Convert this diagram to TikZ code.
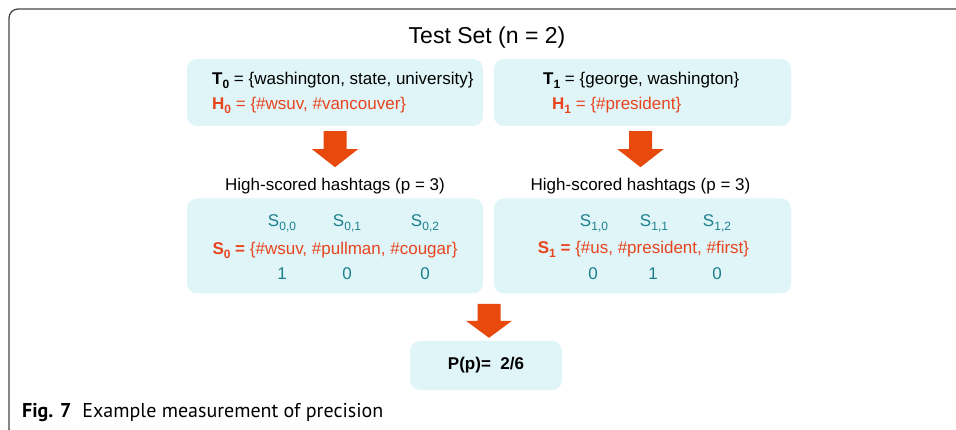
\documentclass[tikz,border=0pt]{standalone}
\usepackage{fontspec}
\setmainfont{Liberation Sans}
\newfontfamily\capfont{PT Sans}
\usetikzlibrary{calc}
\definecolor{boxfill}{RGB}{223,245,248}
\definecolor{hred}{RGB}{232,68,30}
\definecolor{arrowred}{RGB}{232,74,14}
\definecolor{scoreteal}{RGB}{28,128,140}
\definecolor{framegray}{RGB}{70,70,70}
% lowered small index, used for T_0, H_0, S_{0,1}, ...
\newcommand\lowsub[1]{\raisebox{-4pt}{\fontsize{12}{12}\selectfont #1}}
% solid block arrow pointing down; #1 top centre, #2 shaft length, #3 head length
\newcommand\blockdown[3]{%
  \fill[arrowred] (#1) ++(-11.5,0) -- ++(23,0) -- ++(0,#2) -- ++(11.5,0)
    -- ++(-23,#3) -- ++(-23,-#3) -- ++(11.5,0) -- cycle;}
\begin{document}
\begin{tikzpicture}[x=1pt,y=-1pt,
  every node/.style={inner sep=0pt,font=\fontsize{17}{20}\selectfont},
  infobox/.style={fill=boxfill,rounded corners=10pt,minimum width=#1},
  redtxt/.style={text=hred},
  idx/.style={text=scoreteal}]
\useasboundingbox (0,0) rectangle (956,430);
\fill[white] (0,0) rectangle (956,430);

% outer frame (open to the right and bottom)
\begin{scope}
  \clip (0,0) rectangle (956,430);
  \draw[framegray,line width=1.3pt,rounded corners=9pt]
    (24,438) -- (9,438) -- (9,9) -- (970,9);
\end{scope}

% title
\node (title) at (487,38) {\fontsize{23}{26}\selectfont Test Set (n = 2)};

% tweet boxes
\node[infobox=296pt,minimum height=67pt] (t0) at (335,92.5) {};
\node[infobox=297pt,minimum height=67pt] (t1) at (642.5,92.5) {};
\node[anchor=west] (t0a) at (212,80) {\textbf{T\lowsub{0}} = \{washington, state, university\}};
\node[anchor=west,redtxt] (t0b) at (212,105) {\textbf{H\lowsub{0}} = \{\#wsuv, \#vancouver\}};
\node[anchor=west] (t1a) at (543,80) {\textbf{T\lowsub{1}} = \{george, washington\}};
\node[anchor=west,redtxt] (t1b) at (552,105) {\textbf{H\lowsub{1}} = \{\#president\}};

% labels above the hashtag boxes
\node (hs0) at (335,186) {High-scored hashtags (p = 3)};
\node (hs1) at (640.5,186) {High-scored hashtags (p = 3)};

% block arrows from tweets to labels
\coordinate (a0) at ($(t0.south)+(0,5)$);
\coordinate (a1) at ($(t1.south)+(-2,5)$);
\blockdown{a0}{18}{18}
\blockdown{a1}{18}{18}

% hashtag boxes
\node[infobox=296pt,minimum height=95pt] (s0) at (335,246) {};
\node[infobox=297pt,minimum height=95pt] (s1) at (642.5,246) {};

\node[idx] (s00) at (282,223) {S\lowsub{0,0}};
\node[idx] (s01) at (347,223) {S\lowsub{0,1}};
\node[idx] (s02) at (425,223) {S\lowsub{0,2}};
\node[redtxt] (s0set) at (335,250) {\textbf{S\lowsub{0} =} \{\#wsuv, \#pullman, \#cougar\}};
\node[idx] (v00) at (282,274) {1};
\node[idx] (v01) at (347,274) {0};
\node[idx] (v02) at (425,274) {0};

\node[idx] (s10) at (594,223) {S\lowsub{1,0}};
\node[idx] (s11) at (654,223) {S\lowsub{1,1}};
\node[idx] (s12) at (717,223) {S\lowsub{1,2}};
\node[redtxt] (s1set) at (643.5,249) {\textbf{S\lowsub{1} =} \{\#us, \#president, \#first\}};
\node[idx] (v10) at (593,274) {0};
\node[idx] (v11) at (653,274) {1};
\node[idx] (v12) at (717,274) {0};

% precision result
\node[infobox=152pt,minimum height=49pt] (p) at (486,365.5) {};
\node (ptxt) at (p.center) {\textbf{P(p)=\ \ 2/6}};
\coordinate (a2) at ($(p.north)+(3,-37)$);
\blockdown{a2}{17}{17}

% caption
\node[anchor=base west] (cap) at (22,417)
  {\capfont\fontsize{20}{22}\selectfont\textbf{Fig. 7}\hspace{0.55em}Example measurement of precision};
\end{tikzpicture}
\end{document}
